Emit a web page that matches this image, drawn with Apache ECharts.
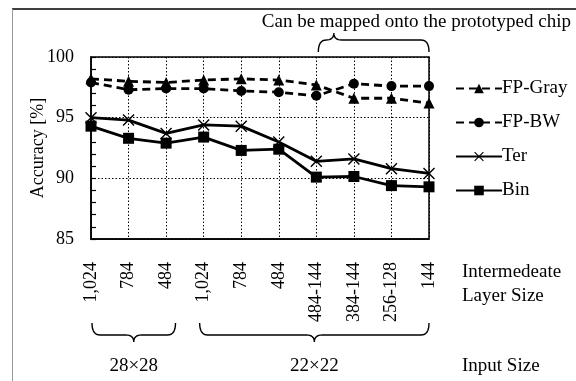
<!DOCTYPE html>
<html>
<head>
<meta charset="utf-8">
<script src="https://cdn.jsdelivr.net/npm/echarts@6/dist/echarts.min.js"></script>
<style>
  html, body { margin: 0; padding: 0; background: #fff; }
  #chart { width: 576px; height: 381px; }
</style>
</head>
<body>
<div id="chart"></div>
<script>
// Intermediate layer sizes (x categories)
const layerSizes = ['1,024', '784', '484', '1,024', '784', '484', '484-144', '384-144', '256-128', '144'];

// Accuracy [%] per network type
const fpGray = [98.2, 98.0, 97.9, 98.1, 98.2, 98.1, 97.7, 96.6, 96.6, 96.2];
const fpBW   = [97.9, 97.3, 97.4, 97.4, 97.2, 97.1, 96.8, 97.8, 97.6, 97.6];
const ter    = [95.0, 94.8, 93.7, 94.4, 94.3, 93.0, 91.4, 91.6, 90.8, 90.4];
const bin    = [94.3, 93.3, 92.9, 93.4, 92.3, 92.4, 90.1, 90.15, 89.4, 89.3];

// y-axis range
const yMin = 85, yMax = 100, yStep = 5;

// Annotation texts
const chipNote = 'Can be mapped onto the prototyped chip';
const inputGroups = [
  { label: '28×28', from: 0, to: 2 },
  { label: '22×22', from: 3, to: 9 }
];
const chipGroup = { from: 6, to: 9 };

const FONT = '"Liberation Serif", "DejaVu Serif", serif';
const X_PATH = 'path://M0,1 L1,0 L6,5 L11,0 L12,1 L7,6 L12,11 L11,12 L6,7 L1,12 L0,11 L5,6 Z';

const chart = echarts.init(document.getElementById('chart'), null, { renderer: 'canvas' });

function lineSeries(name, data, symbol, size, dashed) {
  return {
    name, type: 'line', data,
    symbol, symbolSize: size,
    showSymbol: true,
    symbolKeepAspect: true,
    itemStyle: { color: '#000' },
    lineStyle: { color: '#000', width: 2.8, type: dashed ? [8, 5] : 'solid' },
    emphasis: { disabled: true },
    animation: false,
    z: 3
  };
}

const option = {
  animation: false,
  textStyle: { fontFamily: FONT, color: '#000' },
  title: {
    text: chipNote,
    right: 0, top: 8,
    textStyle: { fontFamily: FONT, fontWeight: 'normal', fontSize: 19, color: '#000' }
  },
  grid: {
    left: 91, right: 147, top: 57, bottom: 142,
    show: true, borderColor: '#000', borderWidth: 1.5,
    containLabel: false
  },
  legend: {
    orient: 'vertical',
    left: 450, top: 74,
    itemWidth: 46, itemHeight: 12,
    itemGap: 15,
    textStyle: { fontFamily: FONT, fontSize: 19, color: '#000', padding: [0, 0, 0, -5] },
    selectedMode: false
  },
  xAxis: {
    type: 'category',
    data: layerSizes,
    boundaryGap: false,
    axisLine: { show: true, lineStyle: { color: '#000', width: 1.5 } },
    axisTick: { show: false },
    axisLabel: {
      rotate: 90, margin: 23, interval: 0,
      fontFamily: FONT, fontSize: 18, color: '#000'
    },
    splitLine: { show: true, lineStyle: { color: '#000', width: 1, type: [1.5, 2] } }
  },
  yAxis: {
    type: 'value',
    min: yMin, max: yMax, interval: yStep,
    name: 'Accuracy [%]',
    nameLocation: 'middle',
    nameRotate: 90,
    nameGap: 44,
    nameMoveOverlap: false,
    nameTextStyle: { fontFamily: FONT, fontSize: 18, color: '#000' },
    axisLine: { show: true, lineStyle: { color: '#000', width: 1.5 } },
    axisTick: { show: true, inside: true, length: 5, lineStyle: { color: '#000', width: 1.2 } },
    minorTick: { show: true, splitNumber: 5, length: 5, lineStyle: { color: '#000', width: 1.2 } },
    axisLabel: { margin: 17, fontFamily: FONT, fontSize: 18, color: '#000' },
    splitLine: { show: true, lineStyle: { color: '#000', width: 1, type: [1.5, 2] } }
  },
  series: [
    lineSeries('FP-Gray', fpGray, 'triangle', 11, true),
    lineSeries('FP-BW', fpBW, 'circle', 10, true),
    lineSeries('Ter', ter, X_PATH, 12, false),
    lineSeries('Bin', bin, 'rect', 11, false)
  ]
};

chart.setOption(option);

// Sample a quadratic curve from p0 through control c to p1
function quad(p0, c, p1, n) {
  const pts = [];
  for (let i = 1; i <= n; i++) {
    const t = i / n, u = 1 - t;
    pts.push([u * u * p0[0] + 2 * u * t * c[0] + t * t * p1[0],
              u * u * p0[1] + 2 * u * t * c[1] + t * t * p1[1]]);
  }
  return pts;
}

// Curly brace as a point list; dir = 1 opens upward (tip below), dir = -1 opens downward (tip above)
function bracePoints(x1, x2, xt, yEnd, dir) {
  const r = 8, h = 12 * dir, t = 7 * dir;
  const yMid = yEnd + h, yTip = yMid + t;
  let pts = [[x1, yEnd]];
  pts = pts.concat(quad([x1, yEnd], [x1, yMid], [x1 + r, yMid], 8));
  pts.push([xt - r, yMid]);
  pts = pts.concat(quad([xt - r, yMid], [xt, yMid], [xt, yTip], 8));
  pts = pts.concat(quad([xt, yTip], [xt, yMid], [xt + r, yMid], 8));
  pts.push([x2 - r, yMid]);
  pts = pts.concat(quad([x2 - r, yMid], [x2, yMid], [x2, yEnd], 8));
  return pts;
}

function catX(i) {
  return chart.convertToPixel({ xAxisIndex: 0 }, i);
}

const step = catX(1) - catX(0);
const graphics = [];
const braceStyle = { stroke: '#000', lineWidth: 1.4, fill: null };

// Frame lines along the page edges
graphics.push({ type: 'line', shape: { x1: 12, y1: 9, x2: 576, y2: 9 }, style: { stroke: '#000', lineWidth: 1.3 }, silent: true });
graphics.push({ type: 'line', shape: { x1: 12.5, y1: 9, x2: 12.5, y2: 381 }, style: { stroke: '#999', lineWidth: 1 }, silent: true });

// Brace above the layers that fit on the chip
{
  const x1 = catX(chipGroup.from) + 2, x2 = catX(chipGroup.to);
  const xt = x1 + (x2 - x1) * 0.14;
  graphics.push({ type: 'polyline', shape: { points: bracePoints(x1, x2, xt, 52, -1) }, style: braceStyle, silent: true });
}

// Braces and labels for input sizes
const braceY = 323;
inputGroups.forEach((g, idx) => {
  const x1 = catX(g.from) + (idx === 0 ? 1 : -4);
  const x2 = catX(g.to) + (idx === 0 ? step * 0.25 : 0);
  const xt = (x1 + x2) / 2;
  graphics.push({ type: 'polyline', shape: { points: bracePoints(x1, x2, xt, braceY, 1) }, style: braceStyle, silent: true });
  graphics.push({
    type: 'text', x: xt, y: 366, silent: true,
    style: { text: g.label, font: `19px ${FONT}`, fill: '#000', align: 'center', verticalAlign: 'middle' }
  });
});

// Row captions on the right
const capX = 462;
[['Intermedeate', 272], ['Layer Size', 296], ['Input Size', 366]].forEach(([t, y]) => {
  graphics.push({
    type: 'text', x: capX, y, silent: true,
    style: { text: t, font: `19px ${FONT}`, fill: '#000', align: 'left', verticalAlign: 'middle' }
  });
});

chart.setOption({ graphic: graphics });
</script>
</body>
</html>
